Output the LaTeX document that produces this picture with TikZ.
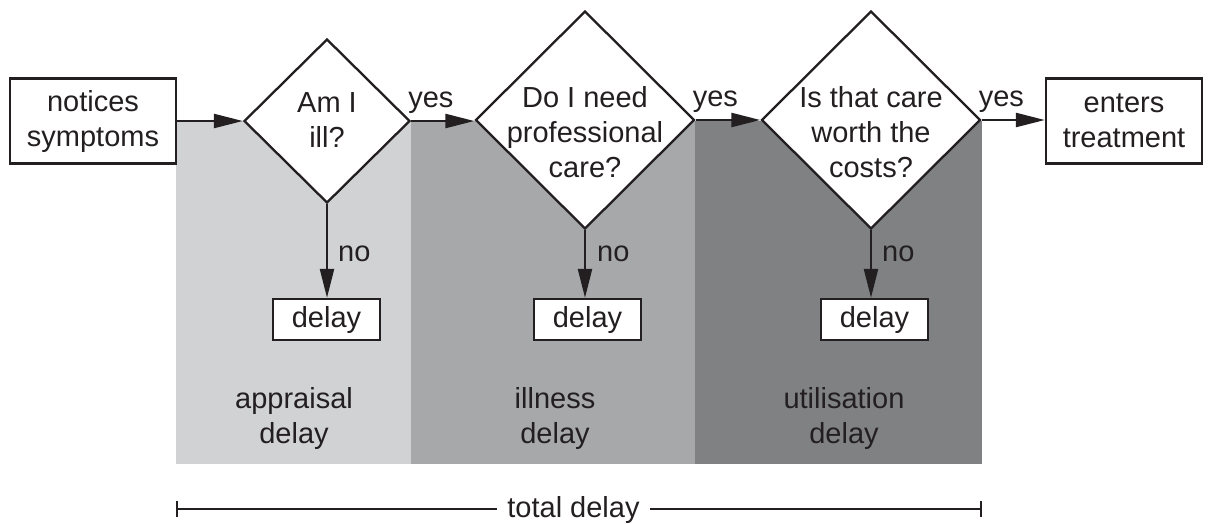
\documentclass[tikz,border=0pt]{standalone}
\usepackage{fontspec}
\setmainfont{Liberation Sans}
\usetikzlibrary{shapes.geometric,arrows.meta}
\definecolor{ink}{HTML}{231F20}
\definecolor{shadeA}{HTML}{D1D2D4}
\definecolor{shadeB}{HTML}{A7A8AA}
\definecolor{shadeC}{HTML}{808183}
\tikzset{
  txt/.style={font=\fontsize{29}{35}\selectfont, text=ink, align=center},
  box/.style={txt, draw=ink, line width=2.3pt, fill=white, inner sep=0pt},
  dia/.style={diamond, draw=ink, line width=2.3pt, fill=white, inner sep=0pt, aspect=1},
  arr/.style={draw=ink, line width=2.3pt, -{Triangle[length=29pt,width=14pt]}},
  lab/.style={txt, inner sep=0pt},
}
\begin{document}
\begin{tikzpicture}[x=1pt,y=-1pt]
\useasboundingbox (0,0) rectangle (1208,523);
% shaded bands
\fill[shadeA] (176,121) rectangle (411,464);
\fill[shadeB] (411,121) rectangle (695,464);
\fill[shadeC] (695,121) rectangle (982,464);
% boxes
\node[box, minimum width=166pt, minimum height=85pt] (n1) at (93,121) {notices\\symptoms};
\node[box, minimum width=156pt, minimum height=85pt] (n2) at (1124,121) {enters\\treatment};
% diamonds
\node[dia, minimum width=166pt, minimum height=164pt] (d1) at (327,121) {};
\node[dia, minimum width=219pt, minimum height=218pt] (d2) at (585,120) {};
\node[dia, minimum width=219pt, minimum height=218pt] (d3) at (871,120) {};
\node[lab] (t1) at (327,120) {Am I\\ill?};
\node[lab] (t2) at (585,132) {Do I need\\professional\\care?};
\node[lab] (t3) at (871,132) {Is that care\\worth the\\costs?};
% delay boxes
\node[box, minimum width=107pt, minimum height=41pt] (e1) at (326.5,319.5) {delay};
\node[box, minimum width=107pt, minimum height=41pt] (e2) at (587.5,319.5) {delay};
\node[box, minimum width=107pt, minimum height=41pt] (e3) at (874.5,319.5) {delay};
% main arrows
\draw[arr] (n1.east |- d1.west) -- (d1.west);
\draw[arr] (d1.east) -- (d1.east -| d2.west);
\draw[arr] (d2.east) -- (d3.west);
\draw[arr] (d3.east) -- (n2.west |- d3.east);
\draw[arr] (d1.south) -- (d1.south |- e1.north);
\draw[arr] (d2.south) -- (d2.south |- e2.north);
\draw[arr] (d3.south) -- (d3.south |- e3.north);
% yes / no labels
\node[lab, anchor=base west] (y1) at ([shift={(-3,-14)}]d1.east) {yes};
\node[lab, anchor=base west] (y2) at ([shift={(-3,-14)}]d2.east) {yes};
\node[lab, anchor=base west] (y3) at ([shift={(-3,-14)}]d3.east) {yes};
\node[lab, anchor=west] (o1) at (338,254) {no};
\node[lab, anchor=west] (o2) at (597,254) {no};
\node[lab, anchor=west] (o3) at (882,254) {no};
% band labels
\node[lab] (b1) at (294,418) {appraisal\\delay};
\node[lab] (b2) at (555,418) {illness\\delay};
\node[lab] (b3) at (844,418) {utilisation\\delay};
% total delay
\coordinate (tl) at (176,509);
\coordinate (tr) at (982,509);
\node[lab, inner xsep=10pt, anchor=base] (tot) at (573.5,517) {total delay};
\draw[ink, line width=2.3pt, {Bar[width=16pt]}-] (tl) -- (tot.west |- tl);
\draw[ink, line width=2.3pt, -{Bar[width=16pt]}] (tot.east |- tr) -- (tr);
\end{tikzpicture}
\end{document}
